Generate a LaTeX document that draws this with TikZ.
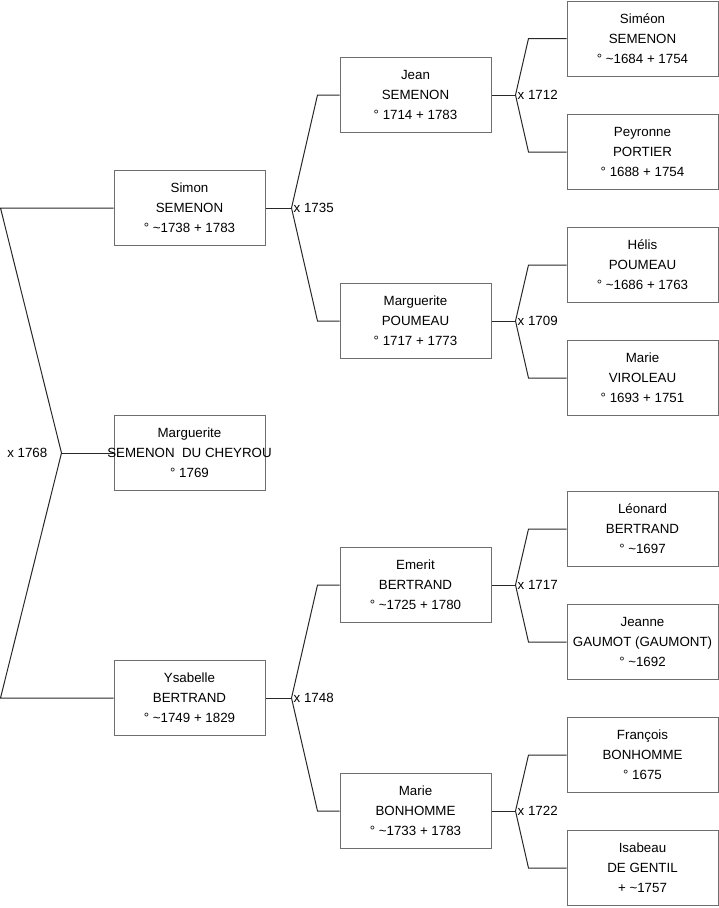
\documentclass[tikz,border=0pt]{standalone}
\usepackage{fontspec}
\setmainfont{Liberation Sans}
\usepackage{tikz}
\definecolor{boxgray}{RGB}{110,110,110}
\definecolor{linkgray}{RGB}{40,40,40}
\tikzset{
	person/.style={draw=boxgray, line width=1pt, minimum width=151pt, minimum height=75pt, align=center, inner sep=0pt, font=\fontsize{13.33}{20}\selectfont},
	link/.style={draw=linkgray, line width=1pt},
	union/.style={font=\fontsize{13.33}{16}\selectfont, inner sep=2pt}
}
\newcommand{\tld}{\char"007E\relax}

\begin{document}
\begin{tikzpicture}[x=1pt, y=-1pt]
		\useasboundingbox (0,0) rectangle (719,908);
		
		\node[person] (simon) at (189.5,208) {Simon\\SEMENON\\° \tld1738 + 1783};
		\node[person] (marguerite) at (189.5,453) {Marguerite\\\makebox[0pt]{SEMENON\ \ DU CHEYROU}\\° 1769};
		\node[person] (ysabelle) at (189.5,698) {Ysabelle\\BERTRAND\\° \tld1749 + 1829};
		\node[person] (jean) at (415.5,95) {Jean\\SEMENON\\° 1714 + 1783};
		\node[person] (margueritep) at (415.5,321) {Marguerite\\POUMEAU\\° 1717 + 1773};
		\node[person] (emerit) at (415.5,585) {Emerit\\BERTRAND\\° \tld1725 + 1780};
		\node[person] (marieb) at (415.5,811) {Marie\\BONHOMME\\° \tld1733 + 1783};
		\node[person] (simeon) at (642.5,38.5) {Siméon\\SEMENON\\° \tld1684 + 1754};
		\node[person] (peyronne) at (642.5,152) {Peyronne\\PORTIER\\° 1688 + 1754};
		\node[person] (helis) at (642.5,265) {Hélis\\POUMEAU\\° \tld1686 + 1763};
		\node[person] (mariev) at (642.5,378) {Marie\\VIROLEAU\\° 1693 + 1751};
		\node[person] (leonard) at (642.5,529) {Léonard\\BERTRAND\\° \tld1697};
		\node[person] (jeanne) at (642.5,642) {Jeanne\\GAUMOT (GAUMONT)\\° \tld1692};
		\node[person] (francois) at (642.5,755) {François\\BONHOMME\\° 1675};
		\node[person] (isabeau) at (642.5,868) {Isabeau\\DE GENTIL\\+ \tld1757};
		
		\foreach \p/\a/\b/\s/\e/\lbl in {
			simon/jean/margueritep/26/22/x 1735,
			ysabelle/emerit/marieb/26/22/x 1748,
			jean/simeon/peyronne/24/38/x 1712,
			margueritep/helis/mariev/24/38/x 1709,
			emerit/leonard/jeanne/24/38/x 1717,
			marieb/francois/isabeau/24/38/x 1722
		}{
			\coordinate (f-\p) at ([xshift=\s pt]\p.east);
			\draw[link] (\p.east) -- (f-\p);
			\draw[link] (f-\p) -- ([xshift=-\e pt]\a.west) -- (\a.west);
			\draw[link] (f-\p) -- ([xshift=-\e pt]\b.west) -- (\b.west);
			\node[union, right] at (f-\p) {\lbl};
		}
		
		\coordinate (top) at ([xshift=-113pt]simon.west);
		\coordinate (bottom) at ([xshift=-113pt]ysabelle.west);
		\coordinate (f-marguerite) at ([xshift=-52pt]marguerite.west);
		\draw[link] (simon.west) -- (top) -- (f-marguerite) -- (bottom) -- (ysabelle.west);
		\draw[link] (f-marguerite) -- (marguerite.west);
		\node[union, left=12pt] at (f-marguerite) {x 1768};
	\end{tikzpicture}
\end{document}
